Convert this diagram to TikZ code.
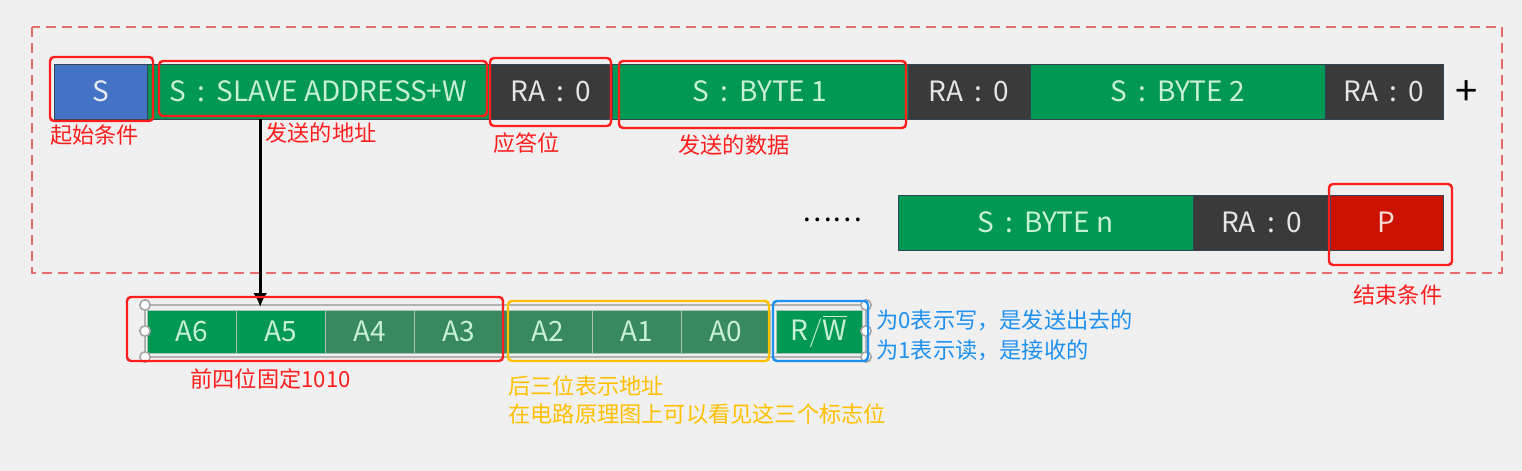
\documentclass[tikz,border=0pt]{standalone}
\usepackage{fontspec}
\setmainfont{Noto Sans CJK SC}
\usetikzlibrary{positioning, arrows.meta, calc}

\definecolor{bgc}{RGB}{240,240,240}
\definecolor{sblue}{RGB}{68,114,196}
\definecolor{fgreen}{RGB}{0,152,82}
\definecolor{mgreen}{RGB}{56,136,96}
\definecolor{darkbox}{RGB}{58,58,58}
\definecolor{pred}{RGB}{204,18,0}
\definecolor{mint}{RGB}{200,240,215}
\definecolor{segline}{RGB}{50,70,85}
\definecolor{hlred}{RGB}{255,30,30}
\definecolor{hlorange}{RGB}{255,192,0}
\definecolor{hlblue}{RGB}{30,144,240}
\definecolor{frame}{RGB}{228,110,110}

\newcommand{\fcolon}{\hspace{0.4em}:\hspace{0.4em}}

\begin{document}
\begin{tikzpicture}[x=0.5pt, y=-0.5pt, >={Latex[length=7pt,width=7pt]},
  seg/.style={draw=segline, line width=0.4pt, inner sep=0pt, outer sep=0pt,
              minimum height=27.5pt, text=mint, font=\fontsize{14}{16}\selectfont},
  bit/.style={seg, draw=mint!60!gray, minimum height=21.5pt, minimum width=44.5pt},
  hl/.style={line width=1.2pt, rounded corners=2pt},
  lab/.style={inner sep=0pt, anchor=west, font=\fontsize{11.1}{13}\selectfont},
  handle/.style={draw=gray!70, fill=white, line width=0.8pt}]
  \fill[bgc] (0,0) rectangle (1522,471);
  \useasboundingbox (0,0) rectangle (1522,471);
  \draw[frame, dashed, dash pattern=on 5pt off 3pt, line width=0.7pt] (32,27) rectangle (1502,273);

  % first frame row
  \node[seg, fill=sblue, text=white!85!sblue, minimum width=46.5pt] (s) at (100.5,91.5) {S};
  \node[seg, fill=fgreen, minimum width=171.5pt, right=0pt of s]  (addr) {S\fcolon SLAVE ADDRESS+W};
  \node[seg, fill=darkbox, text=gray!20, minimum width=61pt, right=0pt of addr] (ra1) {RA\fcolon 0};
  \node[seg, fill=fgreen, minimum width=148pt, right=0pt of ra1]  (b1) {S\fcolon BYTE 1};
  \node[seg, fill=darkbox, text=gray!20, minimum width=61pt, right=0pt of b1] (ra2) {RA\fcolon 0};
  \node[seg, fill=fgreen, minimum width=147.5pt, right=0pt of ra2] (b2) {S\fcolon BYTE 2};
  \node[seg, fill=darkbox, text=gray!20, minimum width=59pt, right=0pt of b2] (ra3) {RA\fcolon 0};
  \node[font=\fontsize{20}{20}\selectfont, inner sep=0pt] (plus) at (1467,93) {+};

  % second frame row
  \node[font=\fontsize{14}{16}\selectfont, inner sep=0pt] (dots) at (832,220) {……};
  \node[seg, fill=fgreen, minimum width=147.5pt] (bn) at (1045.5,222.5) {S\fcolon BYTE n};
  \node[seg, fill=darkbox, text=gray!20, minimum width=68.5pt, right=0pt of bn] (ra4) {RA\fcolon 0};
  \node[seg, fill=pred, text=white!85!pred, minimum width=56.5pt, right=0pt of ra4] (p) {P};

  % address byte
  \draw[gray!60, line width=0.8pt] (145,305) rectangle (866,357);
  \node[bit, fill=fgreen] (a6) at (191.5,331.5) {A6};
  \foreach \i/\c in {5/fgreen,4/mgreen,3/mgreen,2/mgreen,1/mgreen,0/mgreen} {
    \pgfmathtruncatemacro\prev{\i+1}
    \node[bit, fill=\c, right=0pt of a\prev] (a\i) {A\i};
  }
  \node[bit, fill=fgreen, minimum width=43pt] (rw) at (819,331.5)
       {$\mathrm{R}/\overline{\mathrm{W}}$};
  \foreach \y in {305,331,357} {
    \draw[handle] (145,\y) circle[radius=2.6pt];
    \draw[handle] (866,\y) circle[radius=2.6pt];
  }

  \coordinate (tap) at ($(addr.south west)!0.33!(addr.south east)$);
  \draw[->, line width=1.5pt] (tap) -- ([yshift=1.5pt]tap |- a5.north);

  % highlights
  \draw[hl, hlred] (50,57) rectangle (153,121);
  \draw[hl, hlred] (159,61) rectangle (487,116);
  \draw[hl, hlred] (490,58) rectangle (611,126);
  \draw[hl, hlred] (619,61) rectangle (906,128);
  \draw[hl, hlred] (1329,184) rectangle (1452,265);
  \draw[hl, hlred] (127,297) rectangle (503,361);
  \draw[hl, hlorange] (508,301) rectangle (769,361);
  \draw[hl, hlblue] (773,301) rectangle (868,361);

  % notes
  \node[lab, text=hlred] (n1) at (50,135) {起始条件};
  \node[lab, text=hlred] (n2) at (265,133) {发送的地址};
  \node[lab, text=hlred] (n3) at (493,143) {应答位};
  \node[lab, text=hlred] (n4) at (678,145) {发送的数据};
  \node[lab, text=hlred] (n5) at (1353,295) {结束条件};
  \node[lab, text=hlred] (n6) at (190,379) {前四位固定1010};
  \node[lab, text=hlorange] (n7) at (508,386) {后三位表示地址};
  \node[lab, text=hlorange] (n8) at (508,414) {在电路原理图上可以看见这三个标志位};
  \node[lab, text=hlblue] (n9) at (876,320) {为0表示写，是发送出去的};
  \node[lab, text=hlblue] (n10) at (876,350) {为1表示读，是接收的};
\end{tikzpicture}
\end{document}
